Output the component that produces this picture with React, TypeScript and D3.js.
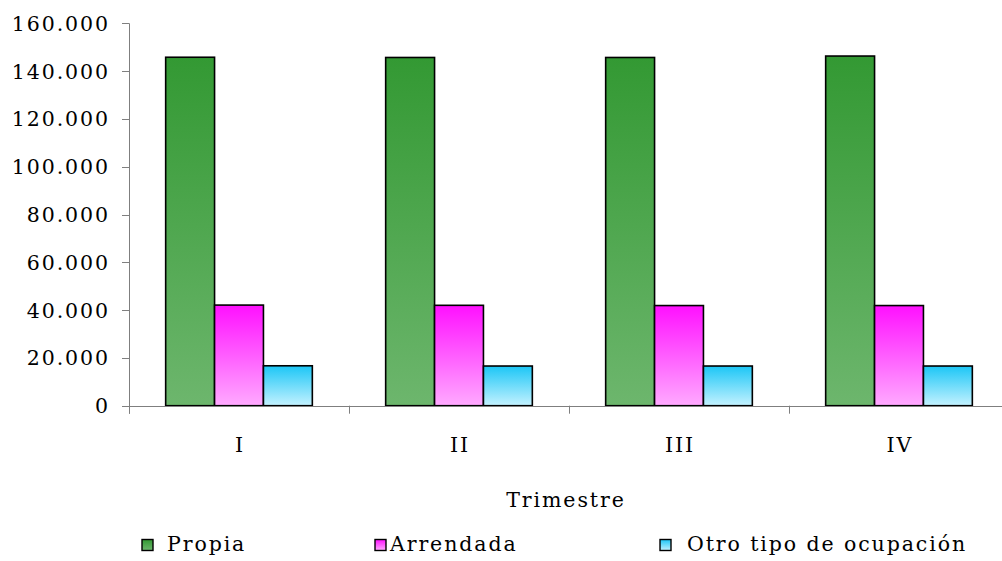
import React from "react";
import * as d3 from "d3";

const categories = ["I", "II", "III", "IV"];
const seriesNames = ["Propia", "Arrendada", "Otro tipo de ocupación"];
const propia = [145800, 145700, 145700, 146300];
const arrendada = [42100, 42000, 41900, 41900];
const otro = [16700, 16600, 16600, 16600];
const yTicks = [0, 20000, 40000, 60000, 80000, 100000, 120000, 140000, 160000];

const gradients = [
  { id: "gGreen", top: "#339933", bottom: "#6db66d" },
  { id: "gPink", top: "#ff10ff", bottom: "#ffaaff" },
  { id: "gCyan", top: "#1cc6f6", bottom: "#c4f2ff" },
];

const W = 1002;
const H = 561;
const left = 129;
const plotW = 880;
const yTop = 23.3;
const yBottom = 405.7;
const FONT = "'DejaVu Serif', serif";
const FS = 20.5;
const LS = 1.9;

export default function App() {
  const series = [propia, arrendada, otro];
  const x0 = d3.scaleBand<string>().domain(categories).range([left, left + plotW]).paddingInner(0).paddingOuter(0);
  const bw = x0.bandwidth() / 4.5;
  const x1 = d3.scaleBand<number>().domain([0, 1, 2]).range([0.75 * bw, 3.75 * bw]).padding(0);
  const y = d3.scaleLinear().domain([0, 160000]).range([yBottom, yTop]);
  const fmt = (v: number) => d3.format(",")(v).replace(/,/g, ".");
  const axisColor = "#7f7f7f";

  const legendSq = [142, 375, 660];
  const legendTx = [167, 390, 687];

  return (
    <svg width={W} height={H} style={{ position: "absolute", left: 0, top: 0, background: "#fff" }}>
      <defs>
        {gradients.map((g) => (
          <linearGradient key={g.id} id={g.id} x1="0" y1="0" x2="0" y2="1">
            <stop offset="0%" stopColor={g.top} />
            <stop offset="100%" stopColor={g.bottom} />
          </linearGradient>
        ))}
      </defs>
      {/* y axis */}
      <line x1={left + 0.5} x2={left + 0.5} y1={yTop} y2={yBottom + 8} stroke={axisColor} strokeWidth={1} />
      {yTicks.map((t) => (
        <g key={t}>
          <line x1={left - 7} x2={left} y1={Math.round(y(t)) + 0.5} y2={Math.round(y(t)) + 0.5} stroke={axisColor} />
          <text x={108 + LS} y={y(t) + 7.5} textAnchor="end" fontFamily={FONT} fontSize={FS} letterSpacing={LS} fill="#000">
            {fmt(t)}
          </text>
        </g>
      ))}
      {/* bars */}
      {categories.map((c, i) => (
        <g key={c}>
          {series.map((s, j) => (
            <rect
              key={j}
              x={(x0(c) as number) + (x1(j) as number)}
              y={y(s[i])}
              width={x1.bandwidth()}
              height={yBottom - y(s[i])}
              fill={`url(#${gradients[j].id})`}
              stroke="#000"
              strokeWidth={1.6}
            />
          ))}
        </g>
      ))}
      {/* x axis */}
      <line x1={left - 7} x2={W} y1={Math.round(yBottom) + 0.5} y2={Math.round(yBottom) + 0.5} stroke={axisColor} />
      {categories.map((c) => (
        <line key={c} x1={Math.round(x0(c) as number) + 0.5} x2={Math.round(x0(c) as number) + 0.5} y1={yBottom} y2={yBottom + 8} stroke={axisColor} />
      ))}
      {categories.map((c) => (
        <text key={c} x={(x0(c) as number) + x0.bandwidth() / 2 + LS / 2} y={452} textAnchor="middle" fontFamily={FONT} fontSize={FS} letterSpacing={LS}>
          {c}
        </text>
      ))}
      <text x={566} y={507} textAnchor="middle" fontFamily={FONT} fontSize={FS} letterSpacing={LS}>
        Trimestre
      </text>
      {/* legend */}
      {seriesNames.map((n, j) => (
        <g key={n}>
          <rect x={legendSq[j]} y={539.5} width={11} height={11} fill={`url(#${gradients[j].id})`} stroke="#000" strokeWidth={1.4} />
          <text x={legendTx[j]} y={551} fontFamily={FONT} fontSize={FS} letterSpacing={LS}>
            {n}
          </text>
        </g>
      ))}
    </svg>
  );
}
